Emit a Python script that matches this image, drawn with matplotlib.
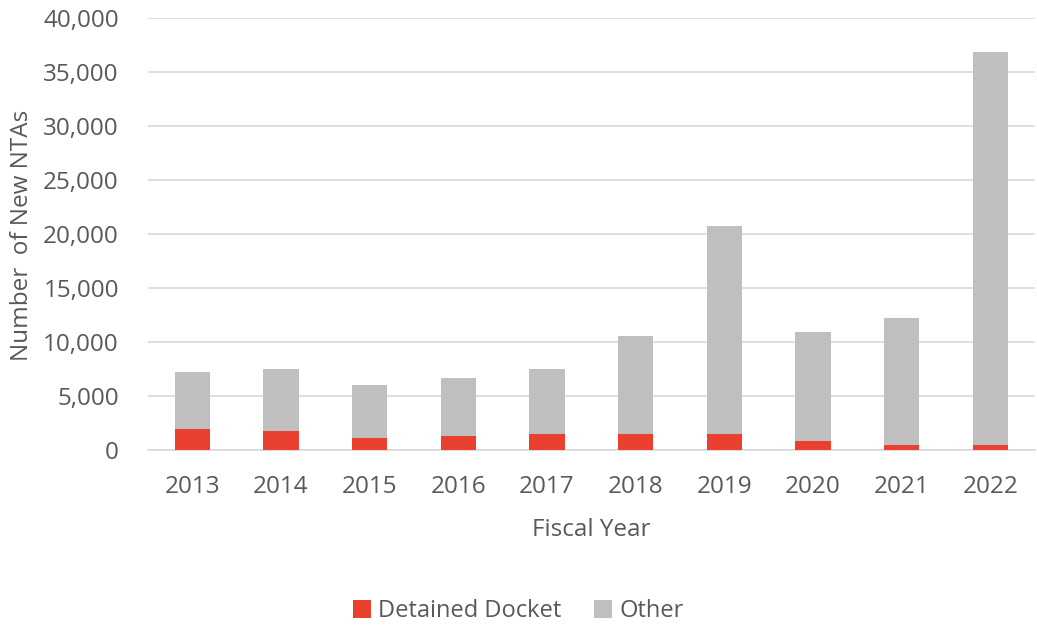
import matplotlib
matplotlib.use("Agg")
import matplotlib.pyplot as plt
import numpy as np
from matplotlib.ticker import FuncFormatter

years = ["2013", "2014", "2015", "2016", "2017", "2018", "2019", "2020", "2021", "2022"]
detained = [1930, 1720, 1080, 1290, 1500, 1500, 1500, 870, 450, 450]
total = [7250, 7500, 6000, 6630, 7480, 10530, 20780, 10950, 12250, 36850]
other = [t - d for t, d in zip(total, detained)]

plt.rcParams['font.family'] = ['Open Sans', 'DejaVu Sans']
txt = '#595959'
fs = 17.5

fig = plt.figure(figsize=(10.37, 6.25), dpi=100)
ax = fig.add_axes([0.1427, 0.28, 0.855, 0.691])

x = np.arange(len(years))
w = 0.4
ax.bar(x, detained, w, color='#EA4030', label='Detained Docket', zorder=3)
ax.bar(x, other, w, bottom=detained, color='#BFBFBF', label='Other', zorder=3)

ax.set_xlim(-0.5, len(years) - 0.5)
ax.set_ylim(0, 40000)
ax.set_yticks(np.arange(0, 40001, 5000))
ax.yaxis.set_major_formatter(FuncFormatter(lambda v, p: f"{int(v):,}"))
ax.set_xticks(x)
ax.set_xticklabels(years)
ax.grid(axis='y', color='#D9D9D9', linewidth=1.2, zorder=0)
for s in ['top', 'right', 'left']:
    ax.spines[s].set_visible(False)
ax.spines['bottom'].set_color('#D9D9D9')
ax.spines['bottom'].set_linewidth(1.2)
ax.tick_params(axis='both', length=0, labelsize=fs, labelcolor=txt)
ax.tick_params(axis='x', pad=18)
ax.tick_params(axis='y', pad=21)

ax.set_xlabel('Fiscal Year', fontsize=fs, color=txt, labelpad=14)
fig.text(22 / 1037, 1 - 235 / 625, 'Number  of New NTAs', rotation=90,
         ha='center', va='center', fontsize=fs, color=txt)

leg = fig.legend(loc='center', bbox_to_anchor=(0.5, 0.022), ncol=2, frameon=False,
                 fontsize=17, handlelength=0.75, handleheight=0.75, columnspacing=1.4,
                 handletextpad=0.3)
for t in leg.get_texts():
    t.set_color(txt)

fig.savefig('out.png', dpi=100)
